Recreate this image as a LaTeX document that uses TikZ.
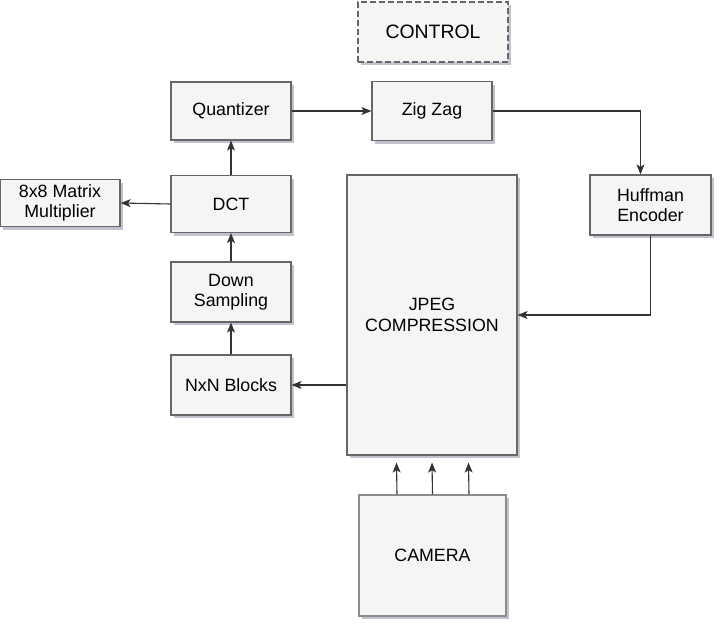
\documentclass[tikz,border=0pt]{standalone}
\usepackage{fontspec}
\setmainfont{Liberation Sans}
\usepackage{tikz}
\usetikzlibrary{arrows.meta,shadows}
\definecolor{boxfill}{HTML}{F5F5F5}
\definecolor{boxline}{HTML}{666666}
\definecolor{camline}{HTML}{8C8C8C}
\definecolor{shade}{HTML}{8F91A6}
\definecolor{wire}{HTML}{333333}

\begin{document}
\begin{tikzpicture}[
  x=1pt,y=-1pt,
  font=\fontsize{17.8}{20.5}\selectfont,
  block/.style={draw=boxline,fill=boxfill,line width=1.2pt,align=center,inner sep=2pt,
    drop shadow={shadow xshift=3pt,shadow yshift=-3pt,fill=shade,opacity=.55}},
  arr/.style={-{Stealth[length=10pt,width=8pt,inset=2.5pt]},line width=1.1pt,draw=wire}]
\useasboundingbox (0,0) rectangle (720,626);
\node[block,dashed,dash pattern=on 6pt off 3pt,line width=1.5pt,minimum width=150pt,minimum height=60pt,
  font=\fontsize{19.4}{22}\selectfont] (control) at (433,32) {CONTROL};
\node[block,minimum width=120pt,minimum height=58pt] (quant) at (231,111) {Quantizer};
\node[block,minimum width=120pt,minimum height=59pt] (zigzag) at (432,111) {Zig Zag};
\node[block,minimum width=120pt,minimum height=57pt] (dct) at (231,204) {DCT};
\node[block,minimum width=120pt,minimum height=47pt] (mult) at (60,203) {8x8 Matrix\\Multiplier};
\node[block,minimum width=120pt,minimum height=60pt] (down) at (231,292) {Down\\Sampling};
\node[block,minimum width=120pt,minimum height=60pt] (nxn) at (231,385) {NxN Blocks};
\node[block,minimum width=170pt,minimum height=280pt] (jpeg) at (432,315) {JPEG\\COMPRESSION};
\node[block,minimum width=121pt,minimum height=60pt] (huff) at (650.5,205) {Huffman\\Encoder};
\node[block,draw=camline,minimum width=147pt,minimum height=121pt] (camera) at (432.5,555.5) {CAMERA};

\draw[arr] (quant.east) -- (zigzag.west);
\draw[arr] (zigzag.east) -| ([xshift=-10pt]huff.north);
\draw[arr] (huff.south) |- (jpeg.east);
\draw[arr] (jpeg.west |- nxn.east) -- (nxn.east);
\draw[arr] (nxn.north) -- (down.south);
\draw[arr] (down.north) -- (dct.south);
\draw[arr] (dct.north) -- (quant.south);
\draw[arr] (dct.west) -- (mult.east);
\foreach \d in {-35.5,0,36.5}
  \draw[arr] ([xshift=\d pt]camera.north) -- ([xshift=\d pt,yshift=-7pt]jpeg.south);
\end{tikzpicture}
\end{document}
